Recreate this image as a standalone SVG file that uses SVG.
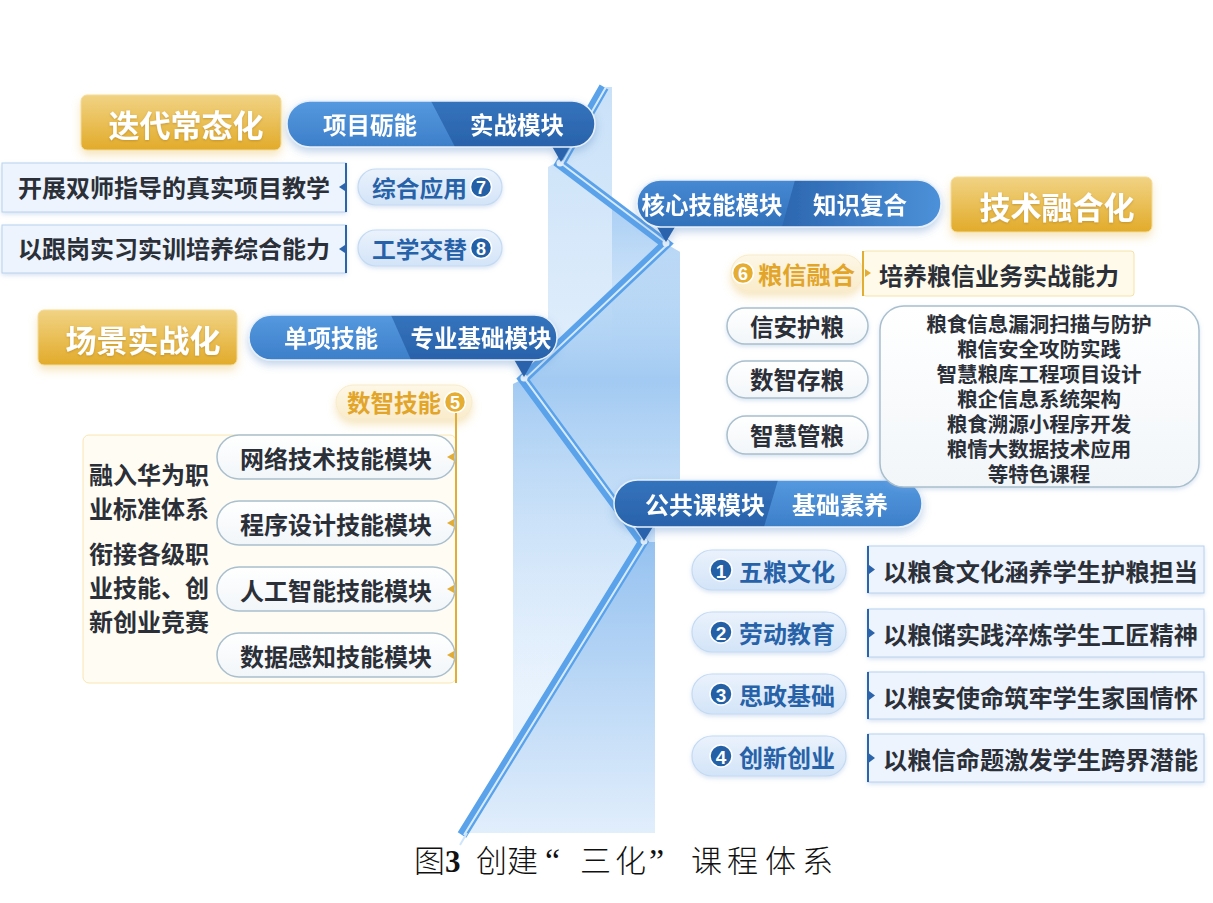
<svg xmlns="http://www.w3.org/2000/svg" width="1213" height="903" viewBox="0 0 1213 903">
<defs>
<style>
.t{font-family:'Noto Sans CJK SC','Noto Sans',sans-serif;font-weight:700;dominant-baseline:central}
.w{fill:#fff}
.dk{fill:#2b2f38}
.bl{fill:#2762a8}
.gd{fill:#e2a52a}
.c{text-anchor:middle}
.num{font-family:'Liberation Sans','DejaVu Sans',sans-serif;font-weight:700;dominant-baseline:central;text-anchor:middle;fill:#fff}
.box{fill:#edf4fd;stroke:#b8d1ef;stroke-width:1}
.cbox{fill:#fffaea;stroke:#f6e2a8;stroke-width:1}
.pill{fill:url(#gPill);stroke:#c4daf3;stroke-width:1.2}
.gpill{fill:url(#gCream);stroke:#f8ebc8;stroke-width:1}
.wp{fill:url(#gWhite);stroke:#a9bfcd;stroke-width:1.5}
.gold{fill:url(#gGold);stroke:#f3dc9a;stroke-width:1}
.bline{stroke:#2b64aa;stroke-width:2}
.gline{stroke:#e2ad35;stroke-width:2}
.ntri{fill:#2b64aa}
.gtri{fill:#e2ad35}
.ncir{fill:#2360a6;stroke:#fff;stroke-width:1.5}
.gcir{fill:#e6ad33;stroke:#fff;stroke-width:1.5}
.bub{stroke:#e6f0fb;stroke-width:1.5}
</style>
<linearGradient id="gGold" x1="0" y1="0" x2="0" y2="1"><stop offset="0" stop-color="#f1d384"/><stop offset="1" stop-color="#e2ab2a"/></linearGradient>
<linearGradient id="gBL" x1="0" y1="0" x2="0" y2="1"><stop offset="0" stop-color="#5599e0"/><stop offset="1" stop-color="#3d7fc9"/></linearGradient>
<linearGradient id="gBM" x1="0" y1="0" x2="0" y2="1"><stop offset="0" stop-color="#4789d3"/><stop offset="1" stop-color="#3170ba"/></linearGradient>
<linearGradient id="gBD" x1="0" y1="0" x2="0" y2="1"><stop offset="0" stop-color="#3473bd"/><stop offset="1" stop-color="#2962aa"/></linearGradient>
<linearGradient id="gBDR" x1="0" y1="0" x2="1" y2="0"><stop offset="0" stop-color="#2c67b0"/><stop offset="1" stop-color="#4d92da"/></linearGradient>
<linearGradient id="gPill" x1="0" y1="0" x2="0" y2="1"><stop offset="0" stop-color="#eaf2fc"/><stop offset="1" stop-color="#d3e4f8"/></linearGradient>
<linearGradient id="gWhite" x1="0" y1="0" x2="0" y2="1"><stop offset="0" stop-color="#ffffff"/><stop offset="1" stop-color="#f2f6f9"/></linearGradient>
<linearGradient id="gCream" x1="0" y1="0" x2="0" y2="1"><stop offset="0" stop-color="#fdf7e6"/><stop offset="1" stop-color="#faeccb"/></linearGradient>
<linearGradient id="gBase" gradientUnits="userSpaceOnUse" x1="0" y1="87" x2="0" y2="833"><stop offset="0" stop-color="#c9e1f8"/><stop offset="0.4" stop-color="#e3effc"/><stop offset="1" stop-color="#ecf5fe"/></linearGradient>
<linearGradient id="gO2" gradientUnits="userSpaceOnUse" x1="0" y1="203" x2="0" y2="370"><stop offset="0" stop-color="#a9cef4" stop-opacity="1"/><stop offset="1" stop-color="#c9e1f8" stop-opacity="0"/></linearGradient>
<linearGradient id="gO3" gradientUnits="userSpaceOnUse" x1="0" y1="244" x2="0" y2="700"><stop offset="0" stop-color="#b8d8f6" stop-opacity="0.5"/><stop offset="0.3" stop-color="#a2caf2" stop-opacity="1"/><stop offset="1" stop-color="#cfe4f9" stop-opacity="0"/></linearGradient>
<linearGradient id="gO4" gradientUnits="userSpaceOnUse" x1="0" y1="542" x2="0" y2="833"><stop offset="0" stop-color="#96c2f0"/><stop offset="1" stop-color="#e1eefc"/></linearGradient>
<filter id="shB" x="-10%" y="-20%" width="120%" height="160%"><feDropShadow dx="0" dy="4" stdDeviation="4" flood-color="#4c7fc0" flood-opacity="0.35"/></filter>
<filter id="shG" x="-10%" y="-20%" width="120%" height="160%"><feDropShadow dx="0" dy="5" stdDeviation="4" flood-color="#e6b84a" flood-opacity="0.35"/></filter>
<filter id="shS" x="-10%" y="-20%" width="120%" height="160%"><feDropShadow dx="0" dy="2" stdDeviation="2" flood-color="#7ea6d6" flood-opacity="0.3"/></filter>
<filter id="shT" x="-10%" y="-20%" width="120%" height="160%"><feDropShadow dx="0" dy="1" stdDeviation="1" flood-color="#a8760e" flood-opacity="0.5"/></filter>
<clipPath id="cb1"><rect x="287" y="101" width="308" height="46" rx="23"/></clipPath>
<clipPath id="cb2"><rect x="637" y="180" width="304" height="47" rx="23.5"/></clipPath>
<clipPath id="cb3"><rect x="249" y="315" width="308" height="45" rx="22.5"/></clipPath>
<clipPath id="cb4"><rect x="614" y="480" width="308" height="47" rx="23.5"/></clipPath>
</defs>
<rect width="1213" height="903" fill="#fff"/>

<g id="connectors">
  <polygon points="604,87 612,87 612,203 666,244 680,252 680,480 655,480 655,833 462,833 513,755 513,384 523,379 548,355 548,167 557,162" fill="url(#gBase)"/>
  <polygon points="612,203 666,244 680,252 680,370 612,370" fill="url(#gO2)"/>
  <polygon points="666,244 680,252 680,480 655,480 655,700 513,700 513,384 523,379" fill="url(#gO3)"/>
  <polygon points="643,542 655,542 655,833 462,833" fill="url(#gO4)"/>
  <polyline points="604,87 560,164 666,244 523,379 643,542 462,835" fill="none" stroke="#5aa2ea" stroke-width="10" stroke-linejoin="miter"/>
  <polyline points="604,87 560,164 666,244 523,379 643,542 462,835" fill="none" stroke="#d7ebfd" stroke-width="2" transform="translate(2,0)"/>
  <line x1="467" y1="833" x2="460" y2="845" stroke="#cfe5fb" stroke-width="2"/>
  <circle cx="560" cy="163" r="3.5" fill="#eef6fe"/>
  <circle cx="666" cy="243" r="3.5" fill="#eef6fe"/>
  <circle cx="524" cy="378" r="3.5" fill="#eef6fe"/>
  <circle cx="644" cy="541" r="3.5" fill="#eef6fe"/>
</g>

<!-- Gold titles -->
<g id="title-diedai">
  <rect class="gold" x="81" y="95" width="200" height="55" rx="6" filter="url(#shG)"/>
  <text class="t w c" x="186" y="123" font-size="31" filter="url(#shT)">迭代常态化</text>
</g>
<g id="title-jishu">
  <rect class="gold" x="951" y="177" width="201" height="55" rx="6" filter="url(#shG)"/>
  <text class="t w c" x="1057" y="205" font-size="31" filter="url(#shT)">技术融合化</text>
</g>
<g id="title-changjing">
  <rect class="gold" x="38" y="310" width="199" height="55" rx="6" filter="url(#shG)"/>
  <text class="t w c" x="143" y="338" font-size="31" filter="url(#shT)">场景实战化</text>
</g>

<!-- Blue bubbles -->
<g id="bubble-shizhan" filter="url(#shB)">
  <polygon points="550,143 572,143 561,162" fill="#2a63ab"/>
  <g clip-path="url(#cb1)">
    <rect x="287" y="101" width="308" height="46" fill="url(#gBL)"/>
    <polygon points="431,101 600,101 600,147 455,147" fill="url(#gBD)"/>
  </g>
  <rect class="bub" x="287" y="101" width="308" height="46" rx="23" fill="none"/>
  <text class="t w c" x="370" y="124" font-size="23.5">项目砺能</text>
  <text class="t w c" x="517" y="124" font-size="23.5">实战模块</text>
</g>
<g id="bubble-hexin" filter="url(#shB)">
  <polygon points="654,222 678,222 666,242" fill="#2a63ab"/>
  <g clip-path="url(#cb2)">
    <rect x="637" y="180" width="304" height="47" fill="url(#gBM)"/>
    <polygon points="795,180 945,180 945,227 782,227" fill="url(#gBDR)"/>
  </g>
  <rect class="bub" x="637" y="180" width="304" height="47" rx="23.5" fill="none"/>
  <text class="t w c" x="712" y="204" font-size="23.5">核心技能模块</text>
  <text class="t w c" x="860" y="204" font-size="23.5">知识复合</text>
</g>
<g id="bubble-zhuanye" filter="url(#shB)">
  <polygon points="512,356 536,356 524,377" fill="#2a63ab"/>
  <g clip-path="url(#cb3)">
    <rect x="249" y="315" width="308" height="45" fill="url(#gBL)"/>
    <polygon points="391,315 560,315 560,360 411,360" fill="url(#gBD)"/>
  </g>
  <rect class="bub" x="249" y="315" width="308" height="45" rx="22.5" fill="none"/>
  <text class="t w c" x="331" y="337" font-size="23.5">单项技能</text>
  <text class="t w c" x="481" y="337" font-size="23.5">专业基础模块</text>
</g>
<g id="bubble-gonggong" filter="url(#shB)">
  <polygon points="632,522 656,522 644,541" fill="#2a63ab"/>
  <g clip-path="url(#cb4)">
    <rect x="614" y="480" width="308" height="47" fill="url(#gBD)"/>
    <polygon points="778,480 925,480 925,527 764,527" fill="url(#gBL)"/>
  </g>
  <rect class="bub" x="614" y="480" width="308" height="47" rx="23.5" fill="none"/>
  <text class="t w c" x="705" y="503" font-size="24">公共课模块</text>
  <text class="t w c" x="840" y="503" font-size="24">基础素养</text>
</g>

<!-- Top-left: 迭代常态化 content -->
<g id="box-shuangshi">
  <rect class="box" x="2" y="163" width="344" height="49" filter="url(#shS)"/>
  <line class="bline" x1="346" y1="163" x2="346" y2="212"/>
  <polygon class="ntri" points="339,187 345,183 345,191"/>
  <text class="t dk" x="18" y="186" font-size="24" textLength="312" lengthAdjust="spacingAndGlyphs">开展双师指导的真实项目教学</text>
</g>
<g id="pill-zonghe">
  <rect class="pill" x="358" y="169" width="144" height="36" rx="18" filter="url(#shS)"/>
  <text class="t bl" x="372" y="187" font-size="23" textLength="95" lengthAdjust="spacingAndGlyphs">综合应用</text>
  <circle class="ncir" cx="481" cy="187" r="10.5"/>
  <text class="num" x="481" y="188" font-size="18">7</text>
</g>
<g id="box-genggang">
  <rect class="box" x="2" y="225" width="344" height="48" filter="url(#shS)"/>
  <line class="bline" x1="346" y1="225" x2="346" y2="273"/>
  <polygon class="ntri" points="339,249 345,245 345,253"/>
  <text class="t dk" x="18" y="247" font-size="24" textLength="312" lengthAdjust="spacingAndGlyphs">以跟岗实习实训培养综合能力</text>
</g>
<g id="pill-gongxue">
  <rect class="pill" x="358" y="230" width="144" height="36" rx="18" filter="url(#shS)"/>
  <text class="t bl" x="372" y="248" font-size="23" textLength="95" lengthAdjust="spacingAndGlyphs">工学交替</text>
  <circle class="ncir" cx="481" cy="248" r="10.5"/>
  <text class="num" x="481" y="249" font-size="18">8</text>
</g>

<!-- 技术融合化 content -->
<g id="pill-liangxin">
  <rect class="gpill" x="731" y="255" width="132" height="36" rx="18" filter="url(#shG)"/>
  <circle class="gcir" cx="743" cy="273" r="10.5"/>
  <text class="num" x="743" y="274" font-size="18">6</text>
  <text class="t gd" x="758" y="273" font-size="24" textLength="97" lengthAdjust="spacingAndGlyphs">粮信融合</text>
</g>
<g id="box-peiyang">
  <rect class="cbox" x="863" y="251" width="271" height="45" rx="3"/>
  <line class="gline" x1="863" y1="251" x2="863" y2="296"/>
  <polygon class="gtri" points="865,269 871,273 865,277"/>
  <text class="t dk" x="879" y="274" font-size="24" textLength="240" lengthAdjust="spacingAndGlyphs">培养粮信业务实战能力</text>
</g>
<g id="pill-xinan">
  <rect class="wp" x="727" y="308" width="141" height="36" rx="18" filter="url(#shS)"/>
  <text class="t dk c" x="797" y="326" font-size="23.5">信安护粮</text>
</g>
<g id="pill-shuzhi">
  <rect class="wp" x="727" y="361" width="141" height="37" rx="18.5" filter="url(#shS)"/>
  <text class="t dk c" x="797" y="379" font-size="23.5">数智存粮</text>
</g>
<g id="pill-zhihui">
  <rect class="wp" x="727" y="416" width="141" height="38" rx="19" filter="url(#shS)"/>
  <text class="t dk c" x="797" y="435" font-size="23.5">智慧管粮</text>
</g>
<g id="box-tese">
  <rect class="wp" x="880" y="306" width="319" height="181" rx="24" filter="url(#shS)"/>
  <text class="t dk c" x="1039" y="323" font-size="20.5">粮食信息漏洞扫描与防护</text>
  <text class="t dk c" x="1039" y="348" font-size="20.5">粮信安全攻防实践</text>
  <text class="t dk c" x="1039" y="373" font-size="20.5">智慧粮库工程项目设计</text>
  <text class="t dk c" x="1039" y="398" font-size="20.5">粮企信息系统架构</text>
  <text class="t dk c" x="1039" y="423" font-size="20.5">粮食溯源小程序开发</text>
  <text class="t dk c" x="1039" y="448" font-size="20.5">粮情大数据技术应用</text>
  <text class="t dk c" x="1039" y="473" font-size="20.5">等特色课程</text>
</g>

<!-- 场景实战化 content -->
<g id="pill-shuzhijineng">
  <rect class="gpill" x="336" y="385" width="136" height="34" rx="17" filter="url(#shG)"/>
  <text class="t gd" x="347" y="402" font-size="23.5" textLength="94" lengthAdjust="spacingAndGlyphs">数智技能</text>
  <circle class="gcir" cx="455" cy="402" r="10.5"/>
  <text class="num" x="455" y="403" font-size="18">5</text>
</g>
<g id="box-huawei">
  <rect class="cbox" x="83" y="435" width="373" height="248" rx="6" style="fill:#fffcf3;stroke:#f8e6b2"/>
  <line class="gline" x1="456" y1="413" x2="456" y2="683"/>
  <text class="t dk" x="89" y="473" font-size="24">融入华为职</text>
  <text class="t dk" x="89" y="507" font-size="24">业标准体系</text>
  <text class="t dk" x="89" y="552" font-size="24">衔接各级职</text>
  <text class="t dk" x="89" y="586" font-size="24">业技能、创</text>
  <text class="t dk" x="89" y="620" font-size="24">新创业竞赛</text>
</g>
<g id="pill-wangluo">
  <rect class="wp" x="217" y="435" width="238" height="44" rx="22"/>
  <polygon class="gtri" points="447,457 454,453 454,461"/>
  <text class="t dk c" x="336" y="457" font-size="24">网络技术技能模块</text>
</g>
<g id="pill-chengxu">
  <rect class="wp" x="217" y="501" width="238" height="44" rx="22"/>
  <polygon class="gtri" points="447,523 454,519 454,527"/>
  <text class="t dk c" x="336" y="523" font-size="24">程序设计技能模块</text>
</g>
<g id="pill-rengong">
  <rect class="wp" x="217" y="567" width="238" height="44" rx="22"/>
  <polygon class="gtri" points="447,589 454,585 454,593"/>
  <text class="t dk c" x="336" y="589" font-size="24">人工智能技能模块</text>
</g>
<g id="pill-shuju">
  <rect class="wp" x="217" y="633" width="238" height="44" rx="22"/>
  <polygon class="gtri" points="447,655 454,651 454,659"/>
  <text class="t dk c" x="336" y="655" font-size="24">数据感知技能模块</text>
</g>

<!-- 公共课 content -->
<g id="pill-wuliang">
  <rect class="pill" x="692" y="550" width="154" height="40" rx="20" filter="url(#shS)"/>
  <circle class="ncir" cx="721" cy="570" r="11"/>
  <text class="num" x="721" y="571" font-size="19">1</text>
  <text class="t bl" x="739" y="570" font-size="24" textLength="96" lengthAdjust="spacingAndGlyphs">五粮文化</text>
</g>
<g id="box-wuliang">
  <rect class="box" x="868" y="546" width="336" height="47" filter="url(#shS)"/>
  <line class="bline" x1="868" y1="546" x2="868" y2="593"/>
  <polygon class="ntri" points="869,565 875,569.5 869,574"/>
  <text class="t dk" x="883" y="570" font-size="24" textLength="315" lengthAdjust="spacingAndGlyphs">以粮食文化涵养学生护粮担当</text>
</g>
<g id="pill-laodong">
  <rect class="pill" x="692" y="612" width="154" height="40" rx="20" filter="url(#shS)"/>
  <circle class="ncir" cx="721" cy="632" r="11"/>
  <text class="num" x="721" y="633" font-size="19">2</text>
  <text class="t bl" x="739" y="632" font-size="24" textLength="96" lengthAdjust="spacingAndGlyphs">劳动教育</text>
</g>
<g id="box-laodong">
  <rect class="box" x="868" y="609" width="336" height="48" filter="url(#shS)"/>
  <line class="bline" x1="868" y1="609" x2="868" y2="657"/>
  <polygon class="ntri" points="869,628.5 875,633 869,637.5"/>
  <text class="t dk" x="883" y="633" font-size="24" textLength="315" lengthAdjust="spacingAndGlyphs">以粮储实践淬炼学生工匠精神</text>
</g>
<g id="pill-sizheng">
  <rect class="pill" x="692" y="674" width="154" height="40" rx="20" filter="url(#shS)"/>
  <circle class="ncir" cx="721" cy="694" r="11"/>
  <text class="num" x="721" y="695" font-size="19">3</text>
  <text class="t bl" x="739" y="694" font-size="24" textLength="96" lengthAdjust="spacingAndGlyphs">思政基础</text>
</g>
<g id="box-sizheng">
  <rect class="box" x="868" y="672" width="336" height="47" filter="url(#shS)"/>
  <line class="bline" x1="868" y1="672" x2="868" y2="719"/>
  <polygon class="ntri" points="869,691 875,695.5 869,700"/>
  <text class="t dk" x="883" y="696" font-size="24" textLength="315" lengthAdjust="spacingAndGlyphs">以粮安使命筑牢学生家国情怀</text>
</g>
<g id="pill-chuangxin">
  <rect class="pill" x="692" y="736" width="154" height="40" rx="20" filter="url(#shS)"/>
  <circle class="ncir" cx="721" cy="756" r="11"/>
  <text class="num" x="721" y="757" font-size="19">4</text>
  <text class="t bl" x="739" y="756" font-size="24" textLength="96" lengthAdjust="spacingAndGlyphs">创新创业</text>
</g>
<g id="box-chuangxin">
  <rect class="box" x="868" y="734" width="336" height="48" filter="url(#shS)"/>
  <line class="bline" x1="868" y1="734" x2="868" y2="782"/>
  <polygon class="ntri" points="869,753.5 875,758 869,762.5"/>
  <text class="t dk" x="883" y="758" font-size="24" textLength="315" lengthAdjust="spacingAndGlyphs">以粮信命题激发学生跨界潜能</text>
</g>

<g id="caption">
  <text x="414" y="872" font-size="31" font-weight="300" font-family="'Liberation Serif','Noto Sans CJK SC',serif" fill="#111">图<tspan font-weight="700" font-family="'Liberation Serif',serif">3</tspan><tspan x="476">创</tspan><tspan x="507">建</tspan><tspan x="545" font-size="34">“</tspan><tspan x="580">三</tspan><tspan x="615">化</tspan><tspan x="649" font-size="34">”</tspan><tspan x="691">课</tspan><tspan x="727">程</tspan><tspan x="765">体</tspan><tspan x="802">系</tspan></text>
</g>
</svg>
